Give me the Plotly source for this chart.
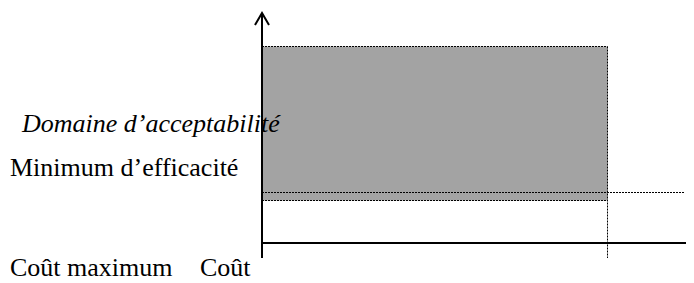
import plotly.graph_objects as go

# --- data (conceptual units: 1 unit = 1 px from the origin) ---
cost_max = 345.5          # "Coût maximum" threshold on the cost axis
eff_min = 50.5            # "Minimum d'efficacité" threshold
domain_y = [42.5, 196.5]  # vertical extent of the acceptability domain
x_axis_end = 432
y_axis_end = 230
axis_below = -15
eff_line_end = 423

labels_y = ["Domaine d\u2019acceptabilit\u00e9", "Minimum d\u2019efficacit\u00e9"]
labels_x = ["Co\u00fbt maximum", "Co\u00fbt"]

fig = go.Figure()

# acceptability domain (grey area)
fig.add_trace(go.Scatter(
    x=[0, cost_max, cost_max, 0, 0],
    y=[domain_y[0], domain_y[0], domain_y[1], domain_y[1], domain_y[0]],
    fill="toself", fillcolor="#a3a3a3", mode="none", hoverinfo="skip"))

dot = dict(color="black", width=1, dash="2px,1px")
# top and bottom edges of the domain
for yv in domain_y:
    fig.add_trace(go.Scatter(x=[0, cost_max], y=[yv, yv], mode="lines", line=dot))
# minimum efficiency line
fig.add_trace(go.Scatter(x=[0, eff_line_end], y=[eff_min, eff_min], mode="lines", line=dot))
# maximum cost line
fig.add_trace(go.Scatter(x=[cost_max, cost_max], y=[domain_y[1], axis_below], mode="lines", line=dot))

axis = dict(color="black", width=2)
# axes
fig.add_trace(go.Scatter(x=[0, 0], y=[axis_below, y_axis_end], mode="lines", line=axis))
fig.add_trace(go.Scatter(x=[0, x_axis_end], y=[0, 0], mode="lines", line=axis))
# arrow heads (open chevrons)
fig.add_trace(go.Scatter(x=[-7, 0, 7], y=[y_axis_end - 12, y_axis_end, y_axis_end - 12],
                         mode="lines", line=axis))
fig.add_trace(go.Scatter(x=[x_axis_end - 7, x_axis_end, x_axis_end - 7], y=[8, 0, -8],
                         mode="lines", line=axis))

font = dict(family="Liberation Serif", size=26, color="black")
fig.add_annotation(x=-243, y=120, text="<i>" + labels_y[0] + "</i>", showarrow=False,
                   xanchor="left", yanchor="middle", font=font)
fig.add_annotation(x=-254, y=75.5, text=labels_y[1], showarrow=False,
                   xanchor="left", yanchor="middle", font=font)
fig.add_annotation(x=-254, y=-24, text=labels_x[0], showarrow=False,
                   xanchor="left", yanchor="middle", font=font)
fig.add_annotation(x=-64, y=-24, text=labels_x[1], showarrow=False,
                   xanchor="left", yanchor="middle", font=font)

# the page body adds an 8px offset; ranges compensate so the origin lands at (262, 243)
fig.update_layout(
    width=694, height=283, margin=dict(l=0, r=0, t=0, b=0),
    paper_bgcolor="white", plot_bgcolor="white", showlegend=False,
    xaxis=dict(range=[-254, 440], visible=False, fixedrange=True),
    yaxis=dict(range=[-48, 235], visible=False, fixedrange=True),
)

fig.write_html("out.html")
